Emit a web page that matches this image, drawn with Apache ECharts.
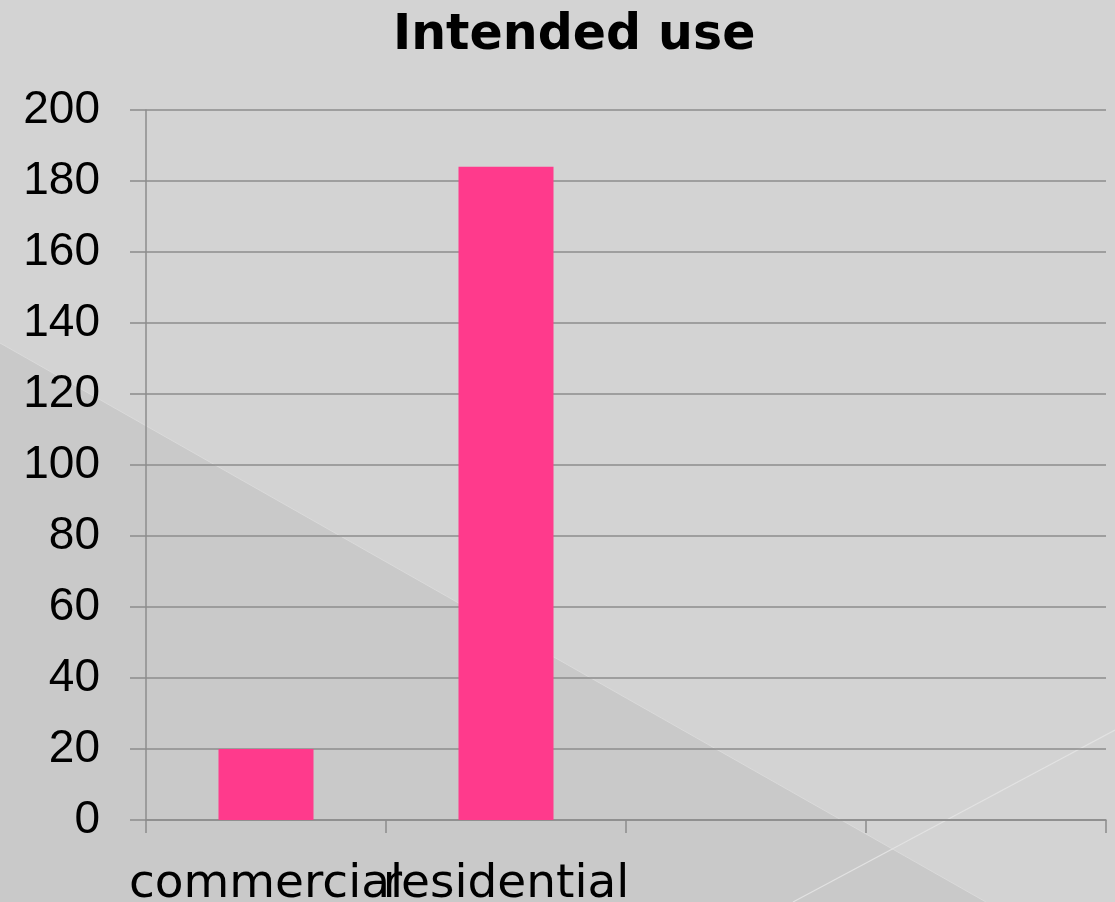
<!DOCTYPE html>
<html>
<head>
<meta charset="utf-8">
<script src="https://cdn.jsdelivr.net/npm/echarts@6/dist/echarts.min.js"></script>
<style>
html,body{margin:0;padding:0;background:#d3d3d3;}
#chart{width:1115px;height:902px;}
</style>
</head>
<body>
<div id="chart"></div>
<script>
const titleText = "Intended use";
const categories = ["commercial", "residential", "", ""];
const values = [20, 184, null, null];
const yTicks = { min: 0, max: 200, interval: 20 };

const chart = echarts.init(document.getElementById('chart'), null, { renderer: 'canvas' });
const FONT_Y = "'Liberation Sans', 'DejaVu Sans', sans-serif";
const FONT_X = "'DejaVu Sans', sans-serif";
const option = {
  backgroundColor: '#d3d3d3',
  animation: false,
  title: {
    text: titleText,
    left: 388,
    top: 7,
    textStyle: { fontFamily: FONT_X, fontWeight: 'bold', fontSize: 49, color: '#000' }
  },
  graphic: [
    {
      type: 'polygon', z: -10, silent: true,
      shape: { points: [[0, 343], [986, 902], [0, 902]] },
      style: { fill: '#c9c9c9' }
    },
    {
      type: 'line', z: -9, silent: true,
      shape: { x1: 0, y1: 343, x2: 986, y2: 902 },
      style: { stroke: '#dadada', lineWidth: 1 }
    },
    {
      type: 'line', z: -9, silent: true,
      shape: { x1: 793, y1: 902, x2: 1115, y2: 730 },
      style: { stroke: '#e2e2e2', lineWidth: 1.2 }
    }
  ],
  grid: { left: 146, right: 9, top: 110, bottom: 82, containLabel: false, outerBoundsMode: 'none' },
  xAxis: {
    type: 'category',
    data: categories,
    boundaryGap: true,
    axisLine: { show: true, lineStyle: { color: '#8c8c8c', width: 1.5 } },
    axisTick: { show: true, length: 13, lineStyle: { color: '#8c8c8c', width: 1.5 } },
    axisLabel: { interval: 0, hideOverlap: false, margin: 41, fontFamily: FONT_X, fontSize: 47, color: '#000' },
    splitLine: { show: false }
  },
  yAxis: {
    type: 'value',
    min: yTicks.min, max: yTicks.max, interval: yTicks.interval,
    axisLine: { show: true, lineStyle: { color: '#8c8c8c', width: 1.5 } },
    axisTick: { show: true, length: 16, lineStyle: { color: '#8c8c8c', width: 1.5 } },
    axisLabel: { margin: 46, fontFamily: FONT_Y, fontSize: 46, color: '#000' },
    splitLine: { show: true, lineStyle: { color: '#8c8c8c', width: 1.5 } }
  },
  series: [{
    type: 'bar',
    data: values,
    barWidth: 95,
    itemStyle: { color: '#ff3a8c' }
  }]
};
chart.setOption(option);
</script>
</body>
</html>
